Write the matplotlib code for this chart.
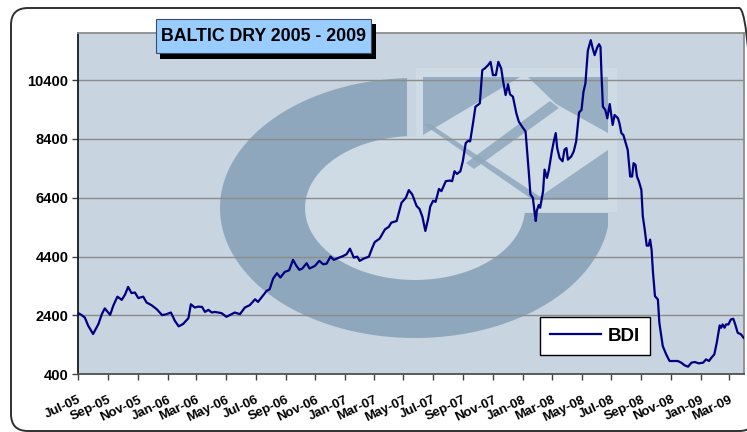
import numpy as np
import pandas as pd
import matplotlib
matplotlib.use("Agg")
import matplotlib.pyplot as plt
import matplotlib.dates as mdates
from matplotlib.patches import Rectangle, Polygon, PathPatch, FancyBboxPatch
from matplotlib.path import Path
from matplotlib.transforms import IdentityTransform

# Baltic Dry Index readings
dates = [
    "2005-07-01", "2005-07-08", "2005-07-15", "2005-07-22", "2005-08-01", "2005-08-12",
    "2005-08-19", "2005-08-25", "2005-09-01", "2005-09-05", "2005-09-12", "2005-09-20",
    "2005-09-29", "2005-10-06", "2005-10-12", "2005-10-19", "2005-10-26", "2005-11-02",
    "2005-11-12", "2005-11-19", "2005-11-29", "2005-12-10", "2005-12-21", "2005-12-30",
    "2006-01-08", "2006-01-16", "2006-01-24", "2006-02-02", "2006-02-13", "2006-02-18",
    "2006-02-26", "2006-03-05", "2006-03-13", "2006-03-19", "2006-03-26", "2006-04-02",
    "2006-04-08", "2006-04-22", "2006-05-02", "2006-05-13", "2006-05-19", "2006-05-30",
    "2006-06-09", "2006-06-19", "2006-06-30", "2006-07-06", "2006-07-16", "2006-07-24",
    "2006-07-30", "2006-08-06", "2006-08-14", "2006-08-21", "2006-08-30", "2006-09-08",
    "2006-09-16", "2006-09-23", "2006-09-29", "2006-10-05", "2006-10-14", "2006-10-20",
    "2006-10-31", "2006-11-09", "2006-11-17", "2006-11-24", "2006-12-02", "2006-12-09",
    "2006-12-18", "2006-12-28", "2007-01-04", "2007-01-11", "2007-01-19", "2007-01-26",
    "2007-01-31", "2007-02-08", "2007-02-19", "2007-02-26", "2007-03-03", "2007-03-13",
    "2007-03-24", "2007-04-01", "2007-04-06", "2007-04-17", "2007-04-22", "2007-04-27",
    "2007-05-06", "2007-05-12", "2007-05-19", "2007-05-28", "2007-06-03", "2007-06-09",
    "2007-06-15", "2007-06-21", "2007-06-25", "2007-07-01", "2007-07-06", "2007-07-13",
    "2007-07-18", "2007-07-27", "2007-08-04", "2007-08-09", "2007-08-14", "2007-08-19",
    "2007-08-26", "2007-08-31", "2007-09-06", "2007-09-11", "2007-09-15", "2007-09-21",
    "2007-09-26", "2007-10-01", "2007-10-05", "2007-10-10", "2007-10-15", "2007-10-22",
    "2007-10-27", "2007-11-01", "2007-11-07", "2007-11-12", "2007-11-18", "2007-11-22",
    "2007-11-27", "2007-12-02", "2007-12-06", "2007-12-12", "2007-12-19", "2007-12-24",
    "2008-01-02", "2008-01-07", "2008-01-14", "2008-01-17", "2008-01-22", "2008-01-26",
    "2008-01-28", "2008-01-30", "2008-02-03", "2008-02-06", "2008-02-12", "2008-02-15",
    "2008-02-20", "2008-02-24", "2008-03-01", "2008-03-05", "2008-03-09", "2008-03-12",
    "2008-03-17", "2008-03-23", "2008-03-27", "2008-03-31", "2008-04-03", "2008-04-10",
    "2008-04-15", "2008-04-20", "2008-04-26", "2008-05-01", "2008-05-05", "2008-05-09",
    "2008-05-14", "2008-05-20", "2008-05-24", "2008-05-28", "2008-06-02", "2008-06-06",
    "2008-06-09", "2008-06-11", "2008-06-14", "2008-06-19", "2008-06-23", "2008-06-28",
    "2008-07-04", "2008-07-08", "2008-07-15", "2008-07-18", "2008-07-22", "2008-07-26",
    "2008-08-01", "2008-08-04", "2008-08-09", "2008-08-13", "2008-08-16", "2008-08-20",
    "2008-08-23", "2008-08-27", "2008-09-01", "2008-09-04", "2008-09-08", "2008-09-12",
    "2008-09-16", "2008-09-19", "2008-09-22", "2008-09-25", "2008-09-29", "2008-10-02",
    "2008-10-05", "2008-10-08", "2008-10-15", "2008-10-22", "2008-10-29", "2008-11-05",
    "2008-11-15", "2008-11-22", "2008-11-29", "2008-12-06", "2008-12-13", "2008-12-20",
    "2008-12-28", "2009-01-06", "2009-01-12", "2009-01-18", "2009-01-23", "2009-01-29",
    "2009-02-03", "2009-02-09", "2009-02-12", "2009-02-15", "2009-02-19", "2009-02-22",
    "2009-02-27", "2009-03-04", "2009-03-09", "2009-03-13", "2009-03-18", "2009-03-25",
    "2009-03-30",
]
bdi = [
    2480, 2420, 2330, 2050, 1770, 2110,
    2445, 2640, 2500, 2420, 2750, 3040,
    2930, 3120, 3370, 3160, 3180, 2990,
    3040, 2840, 2750, 2610, 2410, 2445,
    2500, 2220, 2030, 2110, 2310, 2780,
    2670, 2700, 2690, 2520, 2590, 2500,
    2520, 2480, 2355, 2445, 2500, 2445,
    2670, 2750, 2950, 2860, 3070, 3240,
    3290, 3650, 3835, 3690, 3880, 3935,
    4290, 4085, 3950, 3995, 4175, 3995,
    4085, 4255, 4140, 4160, 4400, 4290,
    4355, 4420, 4480, 4670, 4365, 4400,
    4255, 4330, 4400, 4705, 4895, 5010,
    5325, 5415, 5555, 5610, 5915, 6230,
    6400, 6660, 6515, 6120, 6020, 5750,
    5272, 5700, 6100, 6300, 6260, 6700,
    6625, 6963, 6985, 6963, 7301, 7211,
    7301, 7639, 8259, 8338, 8315, 8935,
    9498, 9555, 9611, 10738, 10794, 10907,
    11020, 10569, 10569, 11020, 10794, 10344,
    9893, 10254, 9915, 9836, 9273, 8991,
    8766, 8653, 7188, 6512, 6399, 5836,
    5610, 5948, 6151, 6061, 6625, 7357,
    7075, 7357, 7977, 8315, 8597, 8090,
    7752, 7639, 8033, 8090, 7695, 7808,
    7977, 8315, 9300, 9386, 10000, 10287,
    11400, 11756, 11474, 11248, 11500, 11620,
    11530, 10626, 9496, 9383, 9100, 9586,
    8875, 9214, 9100, 8931, 8592, 8536,
    8197, 8027, 7123, 7123, 7575, 7519,
    7123, 6954, 6671, 5767, 5315, 4773,
    4773, 4976, 4637, 3846, 3055, 2999,
    2942, 2151, 1360, 1078, 852, 852,
    852, 795, 705, 659, 795, 818,
    772, 795, 908, 852, 965, 1078,
    1473, 2061, 1982, 2095, 1982, 2095,
    2095, 2264, 2287, 2095, 1812, 1756,
    1643,
]
y_ticks = [400, 2400, 4400, 6400, 8400, 10400]
series_name = "BDI"
title = "BALTIC DRY 2005 - 2009"

W, H = 747, 432
AX_L, AX_R, AX_T, AX_B = 78, 744, 33, 374.3

BG = "#C8D4E0"
LOGO = "#8FA7BC"
LIGHT = "#CEDAE4"


def to_ax(x, y):
    # picture pixel -> axes fraction
    return ((x - AX_L) / (AX_R - AX_L), (AX_B - y) / (AX_B - AX_T))


def poly(points, **kw):
    return Polygon([to_ax(x, y) for x, y in points], closed=True,
                   transform=ax.transAxes, **kw)


fig = plt.figure(figsize=(W / 100, H / 100), dpi=100)
fig.patch.set_facecolor("white")
ax = fig.add_axes([AX_L / W, (H - AX_B) / H, (AX_R - AX_L) / W, (AX_B - AX_T) / H])
ax.set_facecolor(BG)

# faded logo watermark
cx, cy = 415, 208
t = np.linspace(0, 2 * np.pi, 240)
outer = [to_ax(cx + 195 * np.cos(a), cy + 130 * np.sin(a)) for a in t]
inner = [to_ax(cx + 110 * np.cos(a), cy + 72 * np.sin(a)) for a in t[::-1]]

ax.add_patch(poly([(416, 68), (617, 68), (617, 212), (416, 212)],
                  facecolor=LIGHT, edgecolor="none", zorder=0.1))
ax.add_patch(Polygon(inner, closed=True, transform=ax.transAxes,
                     facecolor=LIGHT, edgecolor="none", zorder=0.1))
ring = PathPatch(Path.make_compound_path(Path(outer, closed=True), Path(inner, closed=True)),
                 transform=ax.transAxes, facecolor=LOGO, edgecolor="none", zorder=0.2)
ax.add_patch(ring)
clip = poly([(60, 20), (407, 20), (407, 213), (608, 213), (608, 390), (60, 390)],
            facecolor="none", edgecolor="none")
ring.set_clip_path(clip)

for pts in [
    [(423, 77), (520, 77), (423, 135)],
    [(528, 77), (608, 77), (608, 133), (556, 104)],
    [(608, 150), (608, 200), (535, 200)],
    [(423, 124), (430, 124), (545, 200), (533, 200)],
    [(550, 101), (559, 108), (474, 169), (466, 163)],
]:
    ax.add_patch(poly(pts, facecolor=LOGO, edgecolor="none", alpha=0.85, zorder=0.2))

x = pd.to_datetime(dates)
ax.plot(x, bdi, color="#000080", linewidth=1.6, label=series_name, zorder=3)

ax.set_xlim(pd.Timestamp("2005-07-01"), pd.Timestamp("2009-03-31"))
ax.set_ylim(400, 12000)
ax.set_yticks(y_ticks)
ax.yaxis.grid(True, color="#8C8C8C", linewidth=1.0, zorder=1)
ax.set_axisbelow(True)

ax.xaxis.set_major_locator(mdates.MonthLocator(bymonth=[1, 3, 5, 7, 9, 11]))
ax.xaxis.set_major_formatter(mdates.DateFormatter("%b-%y"))
ax.tick_params(axis="both", direction="out", length=4, width=1, color="#404040")
ax.tick_params(axis="y", pad=3)
ax.tick_params(axis="x", pad=10)
for lab in ax.get_yticklabels():
    lab.set_fontfamily("Liberation Sans")
    lab.set_fontweight("bold")
    lab.set_fontsize(10.5)
for lab in ax.get_xticklabels():
    lab.set_fontfamily("Liberation Sans")
    lab.set_fontweight("bold")
    lab.set_fontsize(9.5)
    lab.set_rotation(25)
    lab.set_ha("right")
    lab.set_rotation_mode("anchor")

ax.spines["left"].set_color("#1A1A1A")
ax.spines["left"].set_linewidth(1.3)
ax.spines["bottom"].set_color("#505050")
ax.spines["bottom"].set_linewidth(1.3)
for side in ["top", "right"]:
    ax.spines[side].set_color("#8C8C8C")
    ax.spines[side].set_linewidth(1.3)

leg = ax.legend(loc="lower left", bbox_to_anchor=to_ax(540, 355), borderaxespad=0,
                prop={"family": "Liberation Sans", "weight": "bold", "size": 13.5},
                handlelength=2.7, handletextpad=0.35, borderpad=0.55,
                fancybox=False, framealpha=1, facecolor="white", edgecolor="black")
leg.get_frame().set_linewidth(1.0)
leg.set_zorder(5)

# title box with drop shadow (pixel coords)
pix = IdentityTransform()
fig.add_artist(Rectangle((160, H - 59), 216, 35, transform=pix,
                         facecolor="black", edgecolor="none", zorder=5))
fig.add_artist(Rectangle((156, H - 53), 215, 34, transform=pix,
                         facecolor="#99CCFF", edgecolor="#3C4A66", linewidth=0.8, zorder=6))
fig.text(263.5 / W, (H - 36.5) / H, title, ha="center", va="center",
         fontfamily="Liberation Sans", fontweight="bold", fontsize=12.8, zorder=7)

# rounded outer frame
fig.add_artist(FancyBboxPatch((11, 1), 745, 423, transform=pix,
                              boxstyle="round,pad=0,rounding_size=17",
                              facecolor="none", edgecolor="#303030", linewidth=1.4, zorder=8))

fig.savefig("out.png", dpi=100)
